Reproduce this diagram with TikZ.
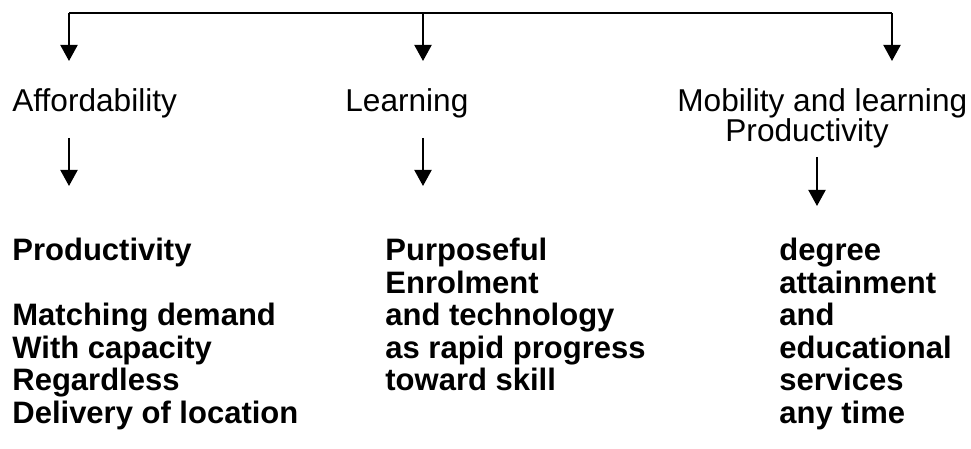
\documentclass[tikz,border=0pt]{standalone}
\usepackage{fontspec}
\setmainfont{Liberation Sans}
\usetikzlibrary{positioning}
\usetikzlibrary{arrows.meta}

\begin{document}
\begin{tikzpicture}[
    x=0.5pt, y=-0.5pt,
    head/.style={inner sep=0pt, anchor=base west, font=\fontsize{15.8}{16.5}\selectfont},
    body/.style={inner sep=0pt, anchor=north west, align=left, font=\fontsize{15.5}{16.25}\selectfont\bfseries},
    arr/.style={-{Triangle[width=8.5pt,length=8pt]}, line width=1pt}
]
    \useasboundingbox (0,0) rectangle (971,449);

    % Top bus
    \coordinate (busL) at (69,13);
    \coordinate (busM) at (423,13);
    \coordinate (busR) at (892,13);
    \coordinate (tipL) at (69,61);
    \coordinate (tipM) at (423,61);
    \coordinate (tipR) at (892,61);
    \draw[line width=1pt] (busL) -- (busR);
    \draw[arr] (busL) -- (tipL);
    \draw[arr] (busM) -- (tipM);
    \draw[arr] (busR) -- (tipR);

    % Headings
    \node[head] (AF) at (12,112) {Affordability};
    \node[head] (LE) at (345,112) {Learning};
    \node[head] (MO) at (677,112) {Mobility and learning};
    \node[head] (PR) at (725,142) {Productivity};

    % Second arrows
    \coordinate (startL) at (69,138);
    \coordinate (endL) at (69,186);
    \coordinate (startM) at (423,138);
    \coordinate (endM) at (423,186);
    \coordinate (startR) at (817,157);
    \coordinate (endR) at (817,206);
    \draw[arr] (startL) -- (endL);
    \draw[arr] (startM) -- (endM);
    \draw[arr] (startR) -- (endR);

    % Bold columns
    \node[body] (AFlist) at (12,238) {Productivity\\[16.25pt]
    Matching demand\\
    With capacity\\
    Regardless\\
    Delivery of location};
    \node[body] (LElist) at (385,238) {Purposeful\\
    Enrolment\\
    and technology\\
    as rapid progress\\
    toward skill};
    \node[body] (MOlist) at (779,238) {degree\\
    attainment\\
    and\\
    educational\\
    services\\
    any time};
\end{tikzpicture}
\end{document}
